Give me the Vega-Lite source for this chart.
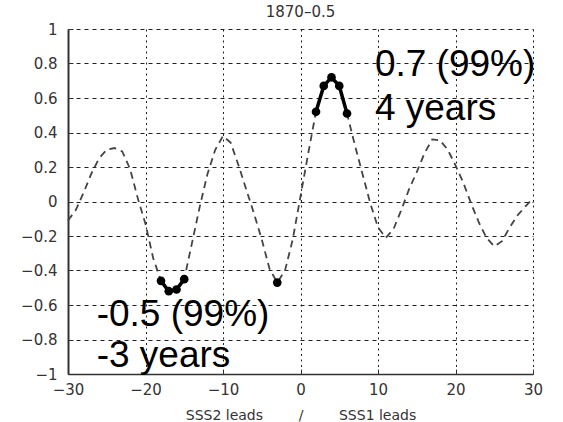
{
  "$schema": "https://vega.github.io/schema/vega-lite/v6.json",
  "width": 465,
  "height": 345,
  "autosize": {"type": "none"},
  "padding": {"left": 68, "top": 29, "right": 30, "bottom": 48},
  "title": {"text": "1870–0.5", "font": "DejaVu Sans", "fontSize": 15, "fontWeight": "normal", "color": "#333", "offset": 2},
  "config": {
    "view": {"stroke": null},
    "axis": {
      "grid": true,
      "gridColor": "#222",
      "gridOpacity": 1,
      "gridWidth": 1,
      "tickSize": -5,
      "tickColor": "#333",
      "tickWidth": 1,
      "domainColor": "#333",
      "labelFont": "DejaVu Sans",
      "labelFontSize": 15,
      "labelColor": "#333",
      "labelFlush": false,
      "labelOverlap": false,
      "titleFont": "DejaVu Sans",
      "titleFontSize": 14,
      "titleFontWeight": "normal",
      "titleColor": "#333"
    }
  },
  "data": {
    "values": [
      {"lag": -30, "r": -0.11, "sig": null},
      {"lag": -29, "r": -0.05, "sig": null},
      {"lag": -28, "r": 0.05, "sig": null},
      {"lag": -27, "r": 0.16, "sig": null},
      {"lag": -26, "r": 0.25, "sig": null},
      {"lag": -25, "r": 0.30, "sig": null},
      {"lag": -24, "r": 0.31, "sig": null},
      {"lag": -23, "r": 0.29, "sig": null},
      {"lag": -22, "r": 0.19, "sig": null},
      {"lag": -21, "r": 0.02, "sig": null},
      {"lag": -20, "r": -0.13, "sig": null},
      {"lag": -19, "r": -0.33, "sig": null},
      {"lag": -18, "r": -0.46, "sig": "a"},
      {"lag": -17, "r": -0.52, "sig": "a"},
      {"lag": -16, "r": -0.51, "sig": "a"},
      {"lag": -15, "r": -0.45, "sig": "a"},
      {"lag": -14, "r": -0.24, "sig": null},
      {"lag": -13, "r": -0.03, "sig": null},
      {"lag": -12, "r": 0.16, "sig": null},
      {"lag": -11, "r": 0.30, "sig": null},
      {"lag": -10, "r": 0.38, "sig": null},
      {"lag": -9, "r": 0.34, "sig": null},
      {"lag": -8, "r": 0.21, "sig": null},
      {"lag": -7, "r": 0.07, "sig": null},
      {"lag": -6, "r": -0.07, "sig": null},
      {"lag": -5, "r": -0.22, "sig": null},
      {"lag": -4, "r": -0.39, "sig": null},
      {"lag": -3, "r": -0.47, "sig": "b"},
      {"lag": -2, "r": -0.40, "sig": null},
      {"lag": -1, "r": -0.22, "sig": null},
      {"lag": 0, "r": 0.03, "sig": null},
      {"lag": 1, "r": 0.28, "sig": null},
      {"lag": 2, "r": 0.52, "sig": "c"},
      {"lag": 3, "r": 0.67, "sig": "c"},
      {"lag": 4, "r": 0.72, "sig": "c"},
      {"lag": 5, "r": 0.67, "sig": "c"},
      {"lag": 6, "r": 0.51, "sig": "c"},
      {"lag": 7, "r": 0.33, "sig": null},
      {"lag": 8, "r": 0.16, "sig": null},
      {"lag": 9, "r": -0.01, "sig": null},
      {"lag": 10, "r": -0.15, "sig": null},
      {"lag": 11, "r": -0.21, "sig": null},
      {"lag": 12, "r": -0.16, "sig": null},
      {"lag": 13, "r": -0.05, "sig": null},
      {"lag": 14, "r": 0.07, "sig": null},
      {"lag": 15, "r": 0.17, "sig": null},
      {"lag": 16, "r": 0.28, "sig": null},
      {"lag": 17, "r": 0.36, "sig": null},
      {"lag": 18, "r": 0.355, "sig": null},
      {"lag": 19, "r": 0.30, "sig": null},
      {"lag": 20, "r": 0.21, "sig": null},
      {"lag": 21, "r": 0.11, "sig": null},
      {"lag": 22, "r": -0.01, "sig": null},
      {"lag": 23, "r": -0.12, "sig": null},
      {"lag": 24, "r": -0.21, "sig": null},
      {"lag": 25, "r": -0.26, "sig": null},
      {"lag": 26, "r": -0.23, "sig": null},
      {"lag": 27, "r": -0.15, "sig": null},
      {"lag": 28, "r": -0.08, "sig": null},
      {"lag": 29, "r": -0.03, "sig": null},
      {"lag": 30, "r": 0.02, "sig": null}
    ]
  },
  "encoding": {
    "x": {
      "field": "lag", "type": "quantitative",
      "scale": {"domain": [-30, 30], "nice": false},
      "axis": {
        "values": [-30, -20, -10, 0, 10, 20, 30],
        "format": "d",
        "gridDash": [2, 3.5],
        "domainWidth": 1.5,
        "labelPadding": 13,
        "title": "SSS2 leads\u00a0\u00a0\u00a0\u00a0\u00a0\u00a0\u00a0\u00a0/\u00a0\u00a0\u00a0\u00a0\u00a0\u00a0\u00a0\u00a0SSS1 leads",
        "titlePadding": 11
      }
    },
    "y": {
      "field": "r", "type": "quantitative",
      "scale": {"domain": [-1, 1], "nice": false},
      "axis": {
        "values": [-1, -0.8, -0.6, -0.4, -0.2, 0, 0.2, 0.4, 0.6, 0.8, 1],
        "format": ".1~f",
        "gridDash": [4, 4],
        "domainWidth": 2,
        "labelPadding": 16,
        "title": null
      }
    }
  },
  "layer": [
    {
      "mark": {"type": "line", "strokeDash": [7, 5], "strokeWidth": 1.8, "color": "#444"}
    },
    {
      "transform": [{"filter": "datum.sig != null"}],
      "mark": {"type": "line", "strokeWidth": 3.5, "color": "black"},
      "encoding": {"detail": {"field": "sig"}}
    },
    {
      "transform": [{"filter": "datum.sig != null"}],
      "mark": {"type": "point", "filled": true, "size": 75, "opacity": 1, "color": "black"}
    },
    {
      "data": {
        "values": [
          {"lag": 9.6, "r": 0.727, "label": "0.7 (99%)"},
          {"lag": 9.6, "r": 0.47, "label": "4 years"},
          {"lag": -26.3, "r": -0.72, "label": "-0.5 (99%)"},
          {"lag": -26.3, "r": -0.96, "label": "-3 years"}
        ]
      },
      "mark": {"type": "text", "align": "left", "baseline": "alphabetic", "font": "Liberation Sans", "fontSize": 37, "color": "black"},
      "encoding": {"text": {"field": "label"}}
    }
  ]
}
